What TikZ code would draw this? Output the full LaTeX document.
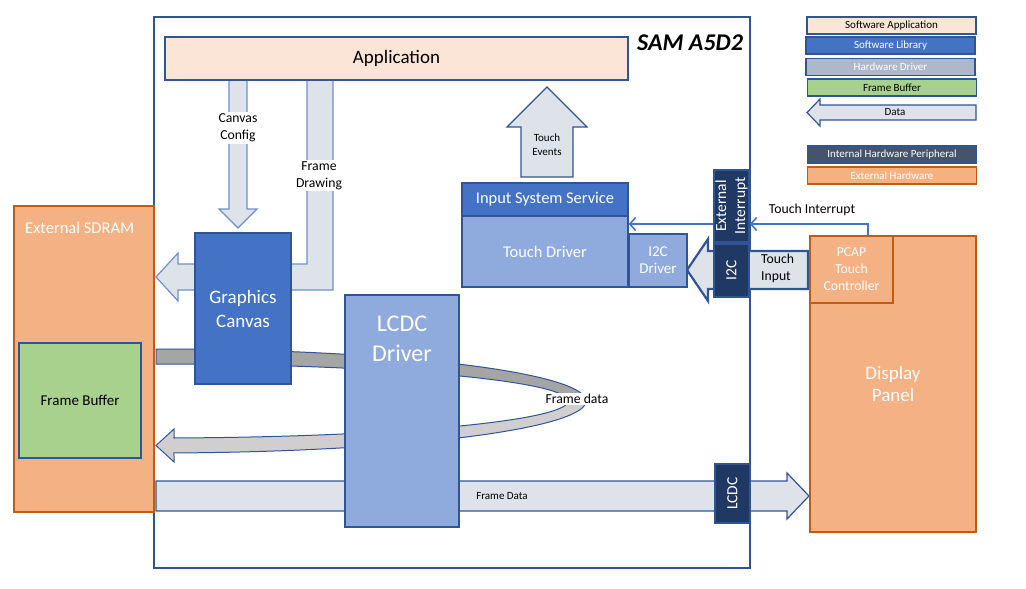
\documentclass[tikz,border=0pt]{standalone}
\usepackage{fontspec}
\setmainfont{Carlito}
\usetikzlibrary{arrows.meta}
\definecolor{dblue}{HTML}{2F5597}
\definecolor{mblue}{HTML}{4472C4}
\definecolor{lblue}{HTML}{8FAADC}
\definecolor{navy}{HTML}{203864}
\definecolor{peach}{HTML}{FBE5D6}
\definecolor{orng}{HTML}{F4B183}
\definecolor{orngb}{HTML}{C55A11}
\definecolor{grn}{HTML}{A9D18E}
\definecolor{arrfill}{HTML}{DEE3EA}
\definecolor{arrb}{HTML}{6F8FC7}
\definecolor{hwdrv}{HTML}{ADB9CA}
\definecolor{slate}{HTML}{44546A}
\definecolor{bandA}{HTML}{A5A5A5}
\definecolor{bandB}{HTML}{D0CECE}
\newcommand{\fsz}[2]{\fontsize{#1}{#2}\selectfont}
\begin{document}
\begin{tikzpicture}[x=1pt,y=-1pt,
  box/.style={draw=dblue, line width=1.3pt, rectangle, inner sep=0pt, align=center},
  obox/.style={draw=orngb, line width=1.5pt, rectangle, inner sep=0pt, align=center, fill=orng, text=white},
  legbox/.style={draw=dblue, line width=1.5pt, rectangle, inner sep=0pt, minimum width=169pt, minimum height=17pt, font=\fsz{11}{13}},
  blockarrow/.style={fill=arrfill, draw=dblue, line width=1.2pt, line join=miter},
  lightarrow/.style={fill=arrfill, draw=arrb, line width=1.2pt, line join=miter},
  lbl/.style={inner sep=1.5pt, align=center, font=\fsz{13.7}{17}},
  thinconn/.style={draw=mblue, line width=1.8pt, -{Straight Barb[length=6pt,width=13pt,line width=1.6pt]}}
]
\useasboundingbox (0,0) rectangle (1026,589);

% SAM A5D2 frame
\node[draw=dblue, line width=2pt, rectangle, inner sep=0pt, minimum width=596pt, minimum height=551pt] (sam) at (452,292.5) {};
\node[font=\fsz{24}{28}\bfseries\itshape, inner sep=0pt] (samlbl) at (690,43) {SAM A5D2};

% External SDRAM
\node[obox, minimum width=140pt, minimum height=306pt] (sdram) at (84,359) {};
\node[font=\fsz{16.5}{19}, text=white, anchor=west, inner sep=0pt] (sdramlbl) at (25,228) {External SDRAM};
\node[box, line width=1.8pt, fill=grn, minimum width=122pt, minimum height=115pt, font=\fsz{15}{18}] (fb) at (80,400.5) {Frame Buffer};

% curved frame-data band (top, darker)
\filldraw[fill=bandA, draw=dblue, line width=1pt]
  plot[domain=90:0, samples=70] ({156+430*cos(\x)}, {401-52*sin(\x)})
  -- plot[domain=0:90, samples=70] ({156+412*cos(\x)}, {401-37*sin(\x)}) -- cycle;
% curved frame-data band (bottom, lighter, with head)
\filldraw[fill=bandB, draw=dblue, line width=1pt, line join=miter]
  plot[domain=0:87.6, samples=70] ({156+430*cos(\x)}, {401+52*sin(\x)})
  -- (174,462) -- (156,445.5) -- (174,429) -- (174,438.5)
  -- plot[domain=87.5:0, samples=70] ({156+412*cos(\x)}, {401+37*sin(\x)}) -- cycle;

% Frame Drawing bent arrow and Canvas Config arrow
\filldraw[lightarrow] (307,80) -- (333,80) -- (333,290) -- (178,290) -- (178,301) -- (156,277) -- (178,253) -- (178,264) -- (307,264) -- cycle;
\filldraw[lightarrow] (229,80) -- (247,80) -- (247,209) -- (257,209) -- (238,228) -- (219,209) -- (229,209) -- cycle;
\node[lbl, fill=white] (cclbl) at (238,128) {Canvas\\Config};
\node[lbl, fill=white] (fdlbl) at (319,175.5) {Frame\\Drawing};

% Frame Data arrow to display
\filldraw[blockarrow] (156,481) -- (787,481) -- (787,473) -- (809,496) -- (787,519) -- (787,511) -- (156,511) -- cycle;
\node[font=\fsz{11}{13}, inner sep=0pt] (fdata) at (502,496) {Frame Data};

% Graphics Canvas and LCDC Driver
\node[box, fill=mblue, text=white, minimum width=96pt, minimum height=151pt, font=\fsz{19}{24}] (gc) at (243,308.5) {Graphics\\Canvas};
\node[box, fill=lblue, minimum width=114pt, minimum height=232pt] (lcdcdrv) at (402,411) {};
\node[text=white, align=center, font=\fsz{24}{30}, inner sep=0pt] (lcdclbl) at (402,339) {LCDC\\Driver};
\node[lbl, fill=white, inner sep=1pt] (fdloop) at (577,399) {Frame data};

% Application
\node[box, line width=1.8pt, fill=peach, minimum width=463pt, minimum height=43pt, font=\fsz{19}{22}] (app) at (396.5,58.5) {Application};

% Touch Events arrow
\filldraw[blockarrow] (521,177) -- (573,177) -- (573,127) -- (587,127) -- (547,87) -- (507,127) -- (521,127) -- cycle;
\node[align=center, font=\fsz{11}{14}, inner sep=0pt] (tevlbl) at (547,145) {Touch\\Events};

% Input system service, touch driver, I2C driver
\node[box, fill=mblue, text=white, minimum width=166pt, minimum height=33pt, font=\fsz{16.4}{19}] (iss) at (545,199.5) {Input System Service};
\node[box, fill=lblue, text=white, minimum width=166pt, minimum height=71pt, font=\fsz{16.4}{19}] (td) at (545,251.5) {Touch Driver};
\node[box, fill=lblue, text=white, minimum width=58pt, minimum height=53pt, font=\fsz{15}{17}] (i2cd) at (658,260.5) {I2C\\Driver};

% Touch Input arrow
\filldraw[fill=arrfill, draw=dblue, line width=2.2pt, line join=miter] (808,251) -- (708,251) -- (708,239) -- (687,270) -- (708,301) -- (708,289) -- (808,289) -- cycle;
\node[align=left, anchor=west, font=\fsz{13.7}{17}, inner sep=0pt] (tinlbl) at (761,268.5) {Touch\\Input};

% hardware peripherals
\node[box, fill=navy, minimum width=35pt, minimum height=72pt] (extint) at (731.5,206) {};
\node[rotate=90, text=white, align=center, font=\fsz{15.5}{19}, inner sep=0pt] (extintlbl) at (extint) {External\\Interrupt};
\node[box, fill=navy, minimum width=35pt, minimum height=53pt] (i2c) at (731.5,270.5) {};
\node[rotate=90, text=white, font=\fsz{15.5}{19}, inner sep=0pt] (i2clbl) at (i2c) {I2C};
\node[box, fill=navy, minimum width=35pt, minimum height=59pt] (lcdc) at (732.5,493.5) {};
\node[rotate=90, text=white, font=\fsz{15.5}{19}, inner sep=0pt] (lcdclbl2) at (lcdc) {LCDC};

% Display panel and PCAP
\node[obox, line width=2pt, minimum width=166pt, minimum height=296pt, font=\fsz{19}{22}] (disp) at (893,384) {Display\\Panel};
\node[obox, line width=1.3pt, minimum width=83pt, minimum height=67pt, font=\fsz{13.7}{17}] (pcap) at (851.5,269.5) {PCAP\\Touch\\Controller};

% Touch interrupt connectors
\coordinate (ti) at (868,224);
\draw[thinconn] ([xshift=16.5pt]pcap.north) -- (ti) -- (ti -| extint.east);
\draw[thinconn] (extint.west |- ti) -- (td.east |- ti);
\node[lbl] (tilbl) at (812,210) {Touch Interrupt};

% Legend
\node[legbox, fill=peach] (l1) at (891.5,25.5) {Software Application};
\node[legbox, fill=mblue, text=white] (l2) at (890.5,45.5) {Software Library};
\node[legbox, fill=hwdrv, text=white] (l3) at (890.5,67) {Hardware Driver};
\node[legbox, fill=grn] (l4) at (892,87.5) {Frame Buffer};
\filldraw[blockarrow] (976,105) -- (820,105) -- (820,99) -- (807,112.5) -- (820,126) -- (820,120) -- (976,120) -- cycle;
\node[font=\fsz{11}{13}, inner sep=0pt] (ldata) at (895,112.5) {Data};
\node[legbox, fill=slate, text=white] (l5) at (892,154.5) {Internal Hardware Peripheral};
\node[legbox, draw=orngb, fill=orng, text=white] (l6) at (892,175.5) {External Hardware};
\end{tikzpicture}
\end{document}
